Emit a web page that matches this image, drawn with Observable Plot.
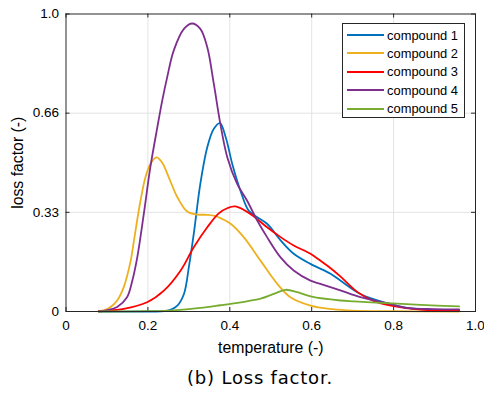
<!DOCTYPE html>
<html>
<head>
<meta charset="utf-8">
<script src="https://cdn.jsdelivr.net/npm/d3@7"></script>
<script src="https://cdn.jsdelivr.net/npm/@observablehq/plot@0.6"></script>
<style>
  html, body { margin: 0; padding: 0; background: #fff; }
  #wrap { position: relative; width: 484px; height: 395px; font-family: "Liberation Sans", Arial, sans-serif; }
  #legend { position: absolute; left: 342px; top: 23px; width: 121px; height: 93px; border: 1px solid #262626; background: #fff; box-sizing: content-box; }
  #legend .row { position: absolute; left: 4px; height: 18px; display: flex; align-items: center; font-family: "Liberation Sans", Arial, sans-serif; font-size: 13.2px; color: #000; white-space: nowrap; }
  #legend .sw { display: inline-block; width: 37px; height: 2px; margin-right: 3px; flex: none; }
  #caption { position: absolute; left: 0; width: 520px; top: 369px; text-align: center; font-family: "DejaVu Sans", sans-serif; font-size: 18px; line-height: 1; letter-spacing: 0.8px; color: #000; }
</style>
</head>
<body>
<div id="wrap"></div>
<script>
// ---- data ----
const seriesNames = ["compound 1", "compound 2", "compound 3", "compound 4", "compound 5"];
const seriesColors = ["#0072BD", "#EDB120", "#FF0000", "#7E2F8E", "#77AC30"];

const c1x = [0.08, 0.2, 0.24, 0.255, 0.272, 0.288, 0.3, 0.312, 0.328, 0.345, 0.361, 0.376, 0.39, 0.406, 0.426, 0.446, 0.467, 0.491, 0.524, 0.556, 0.597, 0.646, 0.67, 0.719, 0.784, 0.833, 0.9, 0.96];
const c1y = [0, 0, 0.001, 0.006, 0.02, 0.059, 0.149, 0.261, 0.429, 0.552, 0.614, 0.633, 0.586, 0.496, 0.406, 0.339, 0.317, 0.295, 0.239, 0.194, 0.16, 0.127, 0.104, 0.059, 0.028, 0.012, 0.005, 0.003];

const c2x = [0.08, 0.095, 0.109, 0.125, 0.141, 0.158, 0.166, 0.182, 0.194, 0.206, 0.221, 0.235, 0.251, 0.272, 0.296, 0.32, 0.345, 0.361, 0.38, 0.402, 0.434, 0.475, 0.516, 0.548, 0.597, 0.65, 0.7, 0.8, 0.96];
const c2y = [0, 0.005, 0.015, 0.037, 0.082, 0.171, 0.239, 0.373, 0.451, 0.496, 0.518, 0.5, 0.451, 0.384, 0.336, 0.326, 0.325, 0.322, 0.312, 0.295, 0.25, 0.171, 0.093, 0.048, 0.02, 0.008, 0.003, 0.001, 0];

const c3x = [0.08, 0.141, 0.198, 0.239, 0.28, 0.312, 0.345, 0.373, 0.395, 0.414, 0.45, 0.491, 0.524, 0.556, 0.597, 0.62, 0.64, 0.67, 0.711, 0.752, 0.8, 0.866, 0.96];
const c3y = [0.002, 0.009, 0.031, 0.07, 0.138, 0.216, 0.283, 0.33, 0.348, 0.353, 0.328, 0.283, 0.25, 0.222, 0.194, 0.172, 0.152, 0.118, 0.066, 0.035, 0.018, 0.006, 0.002];

const c4x = [0.08, 0.1, 0.125, 0.149, 0.162, 0.174, 0.19, 0.206, 0.223, 0.235, 0.247, 0.263, 0.288, 0.308, 0.328, 0.345, 0.361, 0.377, 0.394, 0.418, 0.442, 0.467, 0.491, 0.524, 0.556, 0.597, 0.621, 0.67, 0.719, 0.784, 0.833, 0.9, 0.96];
const c4y = [0, 0.004, 0.015, 0.048, 0.104, 0.182, 0.328, 0.485, 0.619, 0.709, 0.787, 0.877, 0.95, 0.968, 0.95, 0.888, 0.765, 0.63, 0.518, 0.429, 0.373, 0.306, 0.25, 0.182, 0.138, 0.104, 0.093, 0.071, 0.048, 0.028, 0.012, 0.008, 0.007];

const c5x = [0.08, 0.2, 0.263, 0.328, 0.377, 0.427, 0.475, 0.507, 0.536, 0.565, 0.6, 0.67, 0.703, 0.784, 0.866, 0.96];
const c5y = [0, 0.001, 0.004, 0.012, 0.021, 0.031, 0.043, 0.059, 0.073, 0.065, 0.05, 0.037, 0.034, 0.028, 0.022, 0.017];

const xTicks = [0, 0.2, 0.4, 0.6, 0.8, 1.0];
const xTickLabels = ["0", "0.2", "0.4", "0.6", "0.8", "1.0"];
const yTicks = [0, 1/3, 2/3, 1];
const yTickLabels = ["0", "0.33", "0.66", "1.0"];

const xLabel = "temperature (-)";
const yLabel = "loss factor (-)";
const captionText = "(b) Loss factor.";

// ---- build table ----
const allX = [c1x, c2x, c3x, c4x, c5x];
const allY = [c1y, c2y, c3y, c4y, c5y];
const rows = [];
seriesNames.forEach((name, s) => {
  allX[s].forEach((t, i) => rows.push({compound: name, temperature: t, loss: allY[s][i]}));
});

const W = 484, H = 360, mL = 65.5, mR = 9, mT = 13.5, mB = 49;
const innerW = W - mL - mR, innerH = H - mT - mB;
const tickLen = 4;
const axisColor = "#262626";
const gridColor = "#e3e3e3";

const chart = Plot.plot({
  width: W,
  height: H,
  marginLeft: mL,
  marginRight: mR,
  marginTop: mT,
  marginBottom: mB,
  style: { fontFamily: "'Liberation Sans', Arial, sans-serif", fontSize: "13.5px", color: "#000", background: "#fff" },
  x: { domain: [0, 1] },
  y: { domain: [0, 1] },
  color: { domain: seriesNames, range: seriesColors },
  marks: [
    Plot.gridX(xTicks.slice(1, -1), { stroke: gridColor, strokeOpacity: 1 }),
    Plot.gridY(yTicks.slice(1, -1), { stroke: gridColor, strokeOpacity: 1 }),
    // tick labels
    Plot.axisX(xTicks, { anchor: "bottom", tickSize: 0, tickPadding: 9, tickFormat: d => xTickLabels[xTicks.indexOf(d)], label: null, fill: "#000" }),
    Plot.axisY(yTicks, { anchor: "left", tickSize: 0, tickPadding: 7, tickFormat: d => yTickLabels[yTicks.indexOf(d)], label: null, fill: "#000" }),
    // inward ticks on all four sides
    Plot.tickX(xTicks, { x: d => d, insetTop: innerH - tickLen, stroke: axisColor }),
    Plot.tickX(xTicks, { x: d => d, insetBottom: innerH - tickLen, stroke: axisColor }),
    Plot.tickY(yTicks, { y: d => d, insetRight: innerW - tickLen, stroke: axisColor }),
    Plot.tickY(yTicks, { y: d => d, insetLeft: innerW - tickLen, stroke: axisColor }),
    // axis titles
    Plot.axisX([], { anchor: "bottom", label: xLabel, labelAnchor: "center", labelArrow: "none", labelOffset: 41, fontSize: 15.8, fill: "#000" }),
    Plot.axisY([], { anchor: "left", label: yLabel, labelAnchor: "center", labelArrow: "none", labelOffset: 54, fontSize: 15.8, fill: "#000" }),
    Plot.line(rows, { x: "temperature", y: "loss", z: "compound", stroke: "compound", strokeWidth: 1.8, curve: "catmull-rom" }),
    Plot.frame({ stroke: axisColor, strokeWidth: 1 })
  ]
});

const wrap = document.getElementById("wrap");
wrap.appendChild(chart);

// legend
const legend = document.createElement("div");
legend.id = "legend";
const legendTexts = [];
seriesNames.forEach((name, i) => {
  const row = document.createElement("div");
  row.className = "row";
  row.style.top = (2 + i * 18.4) + "px";
  const sw = document.createElement("span");
  sw.className = "sw";
  sw.style.background = seriesColors[i];
  const tx = document.createElement("span");
  tx.textContent = name;
  row.appendChild(sw);
  row.appendChild(tx);
  legend.appendChild(row);
  legendTexts.push({row, tx});
});
wrap.appendChild(legend);

// fit legend label width to the reference (~72px for "compound 1")
const targetTextWidth = 71;
const measured = legendTexts[0].tx.getBoundingClientRect().width;
if (measured > 0) {
  const base = parseFloat(getComputedStyle(legendTexts[0].row).fontSize);
  const fs = Math.max(10, Math.min(16, base * targetTextWidth / measured));
  legendTexts.forEach(({row}) => row.style.fontSize = fs + "px");
}

const cap = document.createElement("div");
cap.id = "caption";
cap.textContent = captionText;
wrap.appendChild(cap);
</script>
</body>
</html>
